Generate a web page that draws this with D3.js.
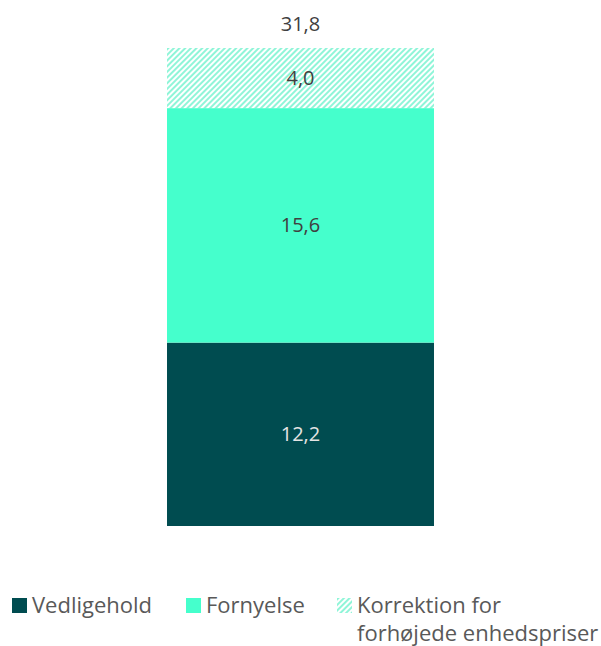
<!DOCTYPE html>
<html>
<head>
<meta charset="utf-8">
<script src="https://d3js.org/d3.v7.min.js"></script>
<style>
    body { margin: 0; background: #fff; }
    svg { font-family: "Open Sans", sans-serif; }
    .val { font-size: 20px; fill: #404040; text-anchor: middle; }
    .legend text { font-size: 22px; fill: #595959; }
</style>
</head>
<body>
<script>
    // data
    var seriesNames = ["Vedligehold", "Fornyelse", "Korrektion for forhøjede enhedspriser"];
    var seriesValues = [12.2, 15.6, 4.0];
    var valueLabels = ["12,2", "15,6", "4,0"];
    var totalLabel = "31,8";
    var category = ["Total"];

    var width = 601, height = 646;
    var colors = ["#004c50", "#45ffcc", "hatch"];
    var labelColors = ["#e4e4e4", "#404040", "#404040"];

    var svg = d3.select("body").append("svg")
        .attr("width", width)
        .attr("height", height);

    // hatch pattern
    var defs = svg.append("defs");
    var pat = defs.append("pattern")
        .attr("id", "hatch")
        .attr("patternUnits", "userSpaceOnUse")
        .attr("width", 4)
        .attr("height", 4)
        .attr("patternTransform", "rotate(45)");
    pat.append("rect").attr("width", 4).attr("height", 4).attr("fill", "#ffffff");
    pat.append("rect").attr("width", 2).attr("height", 4).attr("fill", "#8ff5d8");

    var x = d3.scaleBand().domain(category).range([100, 501]).paddingInner(0).paddingOuter(0.251);
    var total = d3.sum(seriesValues);
    var y = d3.scaleLinear().domain([0, total]).range([526, 48]);

    // stack
    var stacked = [];
    var acc = 0;
    seriesValues.forEach(function(v, i) {
        stacked.push({ name: seriesNames[i], y0: acc, y1: acc + v, label: valueLabels[i], i: i });
        acc += v;
    });

    var bars = svg.append("g");
    bars.selectAll("rect")
        .data(stacked)
        .enter()
        .append("rect")
        .attr("x", x("Total"))
        .attr("width", x.bandwidth())
        .attr("y", function(d) { return y(d.y1); })
        .attr("height", function(d) { return y(d.y0) - y(d.y1); })
        .attr("fill", function(d) { return colors[d.i] == "hatch" ? "url(#hatch)" : colors[d.i]; });

    bars.selectAll("text")
        .data(stacked)
        .enter()
        .append("text")
        .attr("class", "val")
        .attr("x", x("Total") + x.bandwidth() / 2)
        .attr("y", function(d) { return (y(d.y0) + y(d.y1)) / 2 + 7; })
        .style("fill", function(d) { return labelColors[d.i]; })
        .text(function(d) { return d.label; });

    svg.append("text")
        .attr("class", "val")
        .attr("x", x("Total") + x.bandwidth() / 2)
        .attr("y", y(total) - 17)
        .text(totalLabel);

    // legend
    var legend = svg.append("g").attr("class", "legend");
    var legX = [12, 186, 337];
    seriesNames.forEach(function(n, i) {
        var g = legend.append("g").attr("transform", "translate(" + legX[i] + ",598)");
        g.append("rect")
            .attr("width", 15).attr("height", 15)
            .attr("fill", colors[i] == "hatch" ? "url(#hatch)" : colors[i]);
        var t = g.append("text").attr("x", 20).attr("y", 15);
        if (i == 2) {
            t.append("tspan").attr("x", 20).text("Korrektion for");
            t.append("tspan").attr("x", 20).attr("dy", 28).text("forhøjede enhedspriser");
        } else {
            t.text(n);
        }
    });
</script>
</body>
</html>
